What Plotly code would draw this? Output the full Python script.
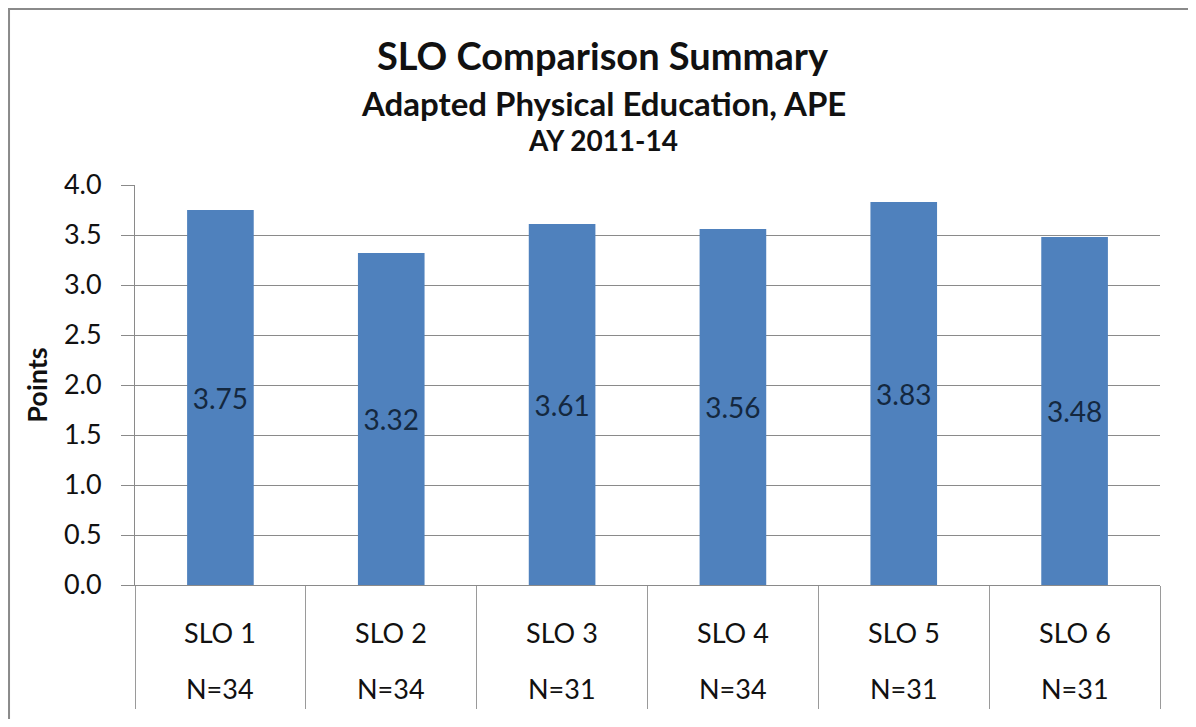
import plotly.graph_objects as go

categories = ["SLO 1", "SLO 2", "SLO 3", "SLO 4", "SLO 5", "SLO 6"]
n_labels = ["N=34", "N=34", "N=31", "N=34", "N=31", "N=31"]
points = [3.75, 3.32, 3.61, 3.56, 3.83, 3.48]
y_ticks = [0.0, 0.5, 1.0, 1.5, 2.0, 2.5, 3.0, 3.5, 4.0]

FONT = "Lato, Open Sans, sans-serif"

fig = go.Figure()
fig.add_trace(go.Bar(
    x=categories, y=points,
    marker=dict(color="#4F81BD", line=dict(width=0)),
    text=[f"{v:.2f}" for v in points],
    textposition="inside", insidetextanchor="middle",
    textfont=dict(family=FONT, size=28, color="#14283F"),
    textangle=0,
    width=0.39,
))

annotations = []
for c, n in zip(categories, n_labels):
    annotations.append(dict(x=c, xref="x", y=-0.1175, yref="paper", text=c,
                            showarrow=False, font=dict(family=FONT, size=27, color="#111"),
                            yanchor="middle"))
    annotations.append(dict(x=c, xref="x", y=-0.2575, yref="paper", text=n,
                            showarrow=False, font=dict(family=FONT, size=27, color="#111"),
                            yanchor="middle"))

annotations += [
    dict(x=0.4566, xref="paper", y=1.325, yref="paper", text="<b>SLO Comparison Summary</b>",
         showarrow=False, font=dict(family=FONT, size=38, color="#111"), yanchor="middle"),
    dict(x=0.4566, xref="paper", y=1.205, yref="paper", text="<b>Adapted Physical Education, APE</b>",
         showarrow=False, font=dict(family=FONT, size=33, color="#111"), yanchor="middle"),
    dict(x=0.4566, xref="paper", y=1.1125, yref="paper", text="<b>AY 2011-14</b>",
         showarrow=False, font=dict(family=FONT, size=28, color="#111"), yanchor="middle"),
]

fig.update_layout(
    width=1180, height=711,
    margin=dict(l=127, r=28, t=177, b=134),
    paper_bgcolor="white", plot_bgcolor="white",
    showlegend=False,
    annotations=annotations,
    shapes=[dict(type="rect", xref="paper", yref="paper", x0=-0.1229, x1=1.04, y0=-0.37, y1=1.44,
                 line=dict(color="#8a8a8a", width=2), layer="below")],
    xaxis=dict(
        type="category", showticklabels=False,
        tickson="boundaries", ticks="outside", ticklen=123, tickcolor="#9a9a9a", tickwidth=1,
        showline=True, linecolor="#8a8a8a", linewidth=1, showgrid=False,
    ),
    yaxis=dict(
        range=[0, 4.0], tickvals=y_ticks, ticktext=[f"{v:.1f}" for v in y_ticks],
        tickfont=dict(family=FONT, size=27, color="#111"),
        ticks="outside", ticklen=13, tickcolor="#8a8a8a",
        ticklabelstandoff=14,
        showgrid=True, gridcolor="#8a8a8a", gridwidth=1,
        showline=True, linecolor="#8a8a8a", zeroline=False,
        title=dict(text="<b>Points</b>", font=dict(family=FONT, size=27, color="#111"), standoff=8),
    ),
)

fig.write_html("out.html")
